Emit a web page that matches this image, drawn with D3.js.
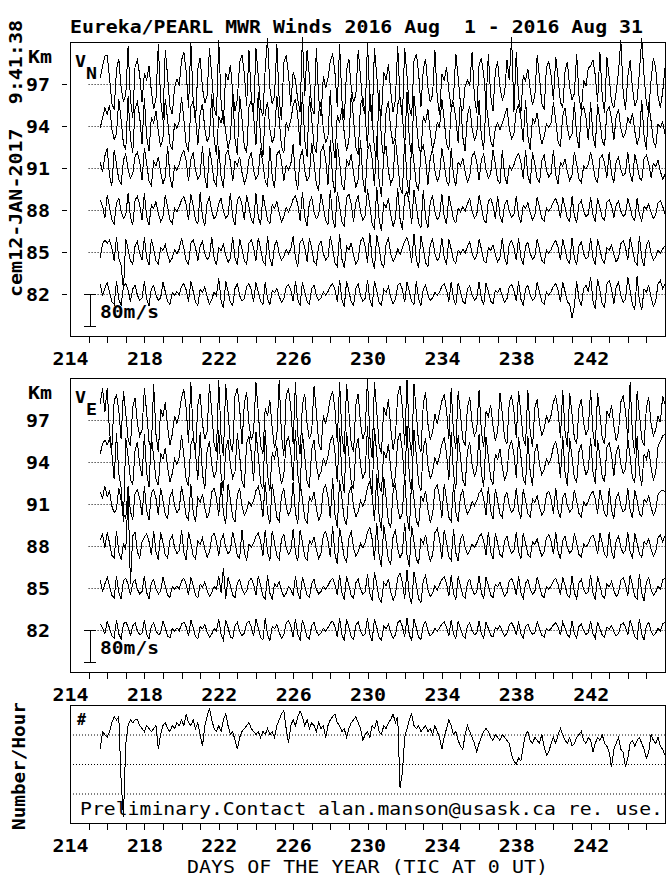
<!DOCTYPE html>
<html>
<head>
<meta charset="utf-8">
<script src="https://cdn.jsdelivr.net/npm/d3@7"></script>
<style>
  body { margin: 0; background: #fff; }
  svg { display: block; }
  text { font-family: "DejaVu Sans Mono", monospace; fill: #000; }
  .b { font-weight: bold; }
</style>
</head>
<body>
<script>
// time base: 3-hourly samples, first one at day 214.625
var startDay = 214.625;
var stepDay = 0.125;

var levels = [97, 94, 91, 88, 85, 82];
var dayLabels = [214, 218, 222, 226, 230, 234, 238, 242];

// meridional wind (m/s), one array per height
var vn97 = [15,45,70,
 72,16,-48,-64,36,63,-9,-45,-27,95,-38,-86,45,60,22,-45,
 27,9,45,-18,-63,-36,100,-40,-90,85,19,-57,-76,-8,12,-4,
 60,80,30,-60,105,-42,-95,38,66,-10,-48,-28,90,20,-60,-80,
 110,-44,-99,28,10,48,-19,-67,-38,54,72,27,-54,85,-34,-77,
 90,20,-60,-80,40,115,-10,-50,-30,100,-40,-90,54,72,27,-54,
 30,10,-40,-70,118,-30,85,19,-57,-76,90,-36,-81,20,-10,15,
 57,76,28,-57,100,-40,-90,36,63,-9,-45,-27,85,19,-57,-76,
 105,-42,-95,90,20,-60,-80,30,10,50,-20,-70,-40,95,-38,-86,
 90,20,-60,-80,57,76,28,-57,36,63,-9,-45,-27,85,-34,-77,
 25,8,42,-17,-60,-34,76,17,-51,-68,-6,9,-3,80,-32,-72,
 48,64,24,-48,75,-30,-68,32,56,-8,-40,-24,60,10,118,-70,
 80,-32,-72,22,8,38,-15,-52,-30,72,16,-48,-64,42,56,21,
 -40,68,15,-45,-60,32,56,-8,-40,-24,75,-30,-68,10,-5,40,
 45,60,22,-45,80,-32,-72,68,15,-45,-60,-20,30,110,-20,-65,
 20,60,-10,-55,-40,30,115,20,-50,-70,10,65,40,-30,-60,-20,
 40];
var vn94 = [-5,20,45,
 30,53,-7,-34,-20,68,15,-45,-60,75,-30,-68,45,60,22,-45,
 70,-28,-63,22,8,38,-15,-52,-30,68,15,-45,-60,8,-6,12,
 72,16,-48,-64,48,64,24,-48,32,56,-8,-40,-24,80,-32,-72,
 24,8,40,-16,-56,-32,80,-32,-72,76,17,-51,-68,48,64,24,
 -48,85,-34,-77,34,60,-8,-42,-25,76,17,-51,-68,10,-8,15,
 51,68,25,-51,85,-34,-77,76,17,-51,-68,34,60,-8,-42,-25,
 90,-36,-81,27,9,45,-18,-63,-36,81,18,-54,-72,54,72,27,
 -54,85,19,-57,-76,90,-36,-81,36,63,-9,-45,-27,54,72,27,
 -54,85,-34,-77,76,17,-51,-68,25,8,42,-17,-60,-34,10,-5,
 68,15,-45,-60,42,56,21,-42,70,-28,-63,28,49,-7,-35,-21,
 65,-26,-59,59,13,-39,-52,-5,8,-10,6,26,45,-6,-32,-19,
 39,52,20,-39,65,-26,-59,20,7,33,-13,-46,-26,5,-3,8,
 59,13,-39,-52,26,45,-6,-32,-19,60,-24,-54,36,48,21,-36,
 60,-24,-54,56,12,-37,-50,36,48,18,-36,24,42,-6,-30,-18,
 20,6,33,-13,-46,-26,65,-26,-59,59,13,-39,-52,5,-4,10,
 -20];
var vn91 = [15,-10,30,
 50,-20,-45,45,10,-30,-40,20,35,-5,-25,-15,30,40,15,-30,
 50,11,-33,-44,17,6,28,-11,-39,-22,55,-22,-50,5,-6,10,
 33,44,17,-33,22,39,-6,-28,-17,55,-22,-50,50,11,-33,-44,
 55,-22,-50,33,44,17,-33,17,6,28,-11,-39,-22,22,39,-6,
 -28,-17,50,11,-33,-44,55,-22,-50,33,44,17,-33,6,-4,9,
 60,-24,-54,26,46,-7,-33,-20,63,14,-42,-56,42,56,21,-42,
 70,-28,-63,63,14,-42,-56,21,7,35,-14,-49,-28,70,-28,-63,
 45,60,22,-45,80,-32,-72,32,56,-8,-40,-24,72,16,-48,-64,
 75,-30,-68,63,14,-42,-56,42,56,21,-42,26,46,-7,-33,-20,
 50,11,-33,-44,50,-20,-45,15,5,25,-10,-35,-20,30,40,15,
 -30,20,35,-5,-25,-15,45,10,-30,-40,45,-18,-40,6,-5,8,
 27,36,14,-27,45,-18,-40,40,9,-27,-36,18,32,-5,-22,-13,
 45,-18,-40,14,5,23,-9,-31,-18,41,9,-27,-36,5,-3,8,
 40,9,-27,-36,24,32,12,-24,40,-16,-36,16,28,-4,-20,-12,
 40,-16,-36,36,8,-24,-32,24,32,12,-24,12,4,20,-8,-28,
 -16];
var vn88 = [25,10,-20,
 38,8,-25,-34,17,29,-4,-21,-13,42,-17,-38,25,34,13,-25,
 42,-17,-38,13,4,21,-8,-29,-17,38,8,-25,-34,5,-4,8,
 25,34,13,-25,40,9,-26,-35,44,-18,-40,18,31,-4,-22,-13,
 17,29,-4,-21,-13,42,-17,-38,25,34,13,-25,38,8,-25,-34,
 42,-17,-38,38,8,-25,-34,13,4,21,-8,-29,-17,6,-5,9,
 27,36,14,-27,45,-18,-40,18,32,-5,-22,-13,40,9,-27,-36,
 50,-20,-45,45,10,-30,-40,30,40,15,-30,20,35,-5,-25,-15,
 52,12,-35,-46,58,-23,-52,17,6,29,-12,-41,-23,55,-22,-50,
 35,46,17,-35,50,11,-33,-44,50,-20,-45,20,35,-5,-25,-15,
 40,-16,-36,36,8,-24,-32,5,-5,8,-3,16,28,-4,-20,-12,
 36,8,-24,-32,22,29,11,-22,36,-14,-32,14,25,-4,-18,-11,
 36,-14,-32,11,4,18,-7,-25,-14,32,7,-21,-28,5,-3,6,
 21,28,11,-21,32,7,-21,-28,34,-14,-31,14,24,-3,-17,-10,
 32,-13,-29,29,6,-19,-26,19,26,10,-19,13,22,-3,-16,-10,
 29,6,-19,-26,30,-12,-27,9,3,15,-6,-21,-12,18,24,9,
 -10];
var vn85 = [-15,20,30,
 22,30,11,-22,37,-15,-33,-95,33,7,-22,-30,15,26,-4,-19,
 37,-15,-33,33,7,-22,-30,11,4,19,-7,-26,-15,5,-4,7,
 35,8,-23,-31,22,30,11,-22,15,26,-4,-19,-11,37,-15,-33,
 11,4,19,-7,-26,-15,37,-15,-33,33,7,-22,-30,22,30,11,
 -22,35,8,-23,-31,40,-16,-36,16,28,-4,-20,-12,6,-4,8,
 40,-16,-36,24,32,12,-24,36,8,-24,-32,16,28,-4,-20,-12,
 40,9,-27,-36,45,-18,-40,14,5,23,-9,-31,-18,27,36,14,
 -27,48,-19,-43,43,10,-29,-38,19,34,-5,-24,-14,8,-6,10,
 27,36,14,-27,45,-18,-40,40,9,-27,-36,18,32,-5,-22,-13,
 36,-14,-32,32,7,-21,-28,5,-4,7,-3,14,25,-4,-18,-11,
 32,7,-21,-28,11,4,18,-7,-25,-14,35,-14,-32,21,28,11,
 -21,35,-14,-32,14,25,-4,-18,-11,32,7,-21,-28,5,-3,6,
 21,28,11,-21,32,7,-21,-28,35,-14,-32,14,25,-4,-18,-11,
 35,-14,-32,32,7,-21,-28,11,4,18,-7,-25,-14,21,28,11,
 -21,36,8,-24,-32,40,-16,-36,16,28,-4,-20,-12,5,-4,8,
 15];
var vn82 = [25,-5,15,
 29,6,-19,-26,32,-13,-29,19,26,10,-19,13,22,-3,-16,-10,
 32,-13,-29,13,22,-3,-16,-10,29,6,-19,-26,4,-3,6,-2,
 19,26,10,-19,32,7,-21,-28,11,4,18,-7,-25,-14,5,-4,
 40,-16,-36,32,7,-21,-28,14,25,-4,-18,-11,19,26,10,-19,
 29,6,-19,-26,30,-12,-27,9,3,15,-6,-21,-12,18,24,9,
 -18,32,-13,-29,29,6,-19,-26,13,22,-3,-16,-10,5,-3,6,
 19,26,10,-19,35,-14,-32,32,7,-21,-28,14,25,-4,-18,-11,
 35,-14,-32,32,7,-21,-28,11,4,18,-7,-25,-14,21,28,11,
 -21,29,6,-19,-26,32,-13,-29,13,22,-3,-16,-10,4,-3,5,
 19,26,10,-19,30,-12,-27,27,6,-18,-24,12,21,-3,-15,-9,
 30,-12,-27,27,6,-18,-24,9,3,15,-6,-21,-12,18,24,9,
 -18,32,-13,-29,13,22,-3,-16,-10,29,6,-19,-26,5,-3,6,
 19,26,10,-19,29,6,-19,-26,-60,-30,32,-13,-29,13,22,5,
 42,-17,-38,38,8,-25,-34,25,34,13,-25,17,29,-4,-21,-13,
 42,9,-28,-38,45,-18,-40,13,4,22,-9,-31,-18,25,34,13,
 25];

// zonal wind (m/s), one array per height
var ve97 = [40,80,20,
 80,-32,-72,48,64,24,-48,72,16,-48,-64,32,56,-8,-40,-24,
 80,18,-54,-72,90,-36,-81,27,9,45,-18,-63,-36,10,-8,15,
 57,76,28,-57,95,-38,-86,38,66,-10,-48,-28,90,20,-60,-80,
 100,-40,-90,90,20,-60,-80,60,80,30,-60,40,70,-10,-50,-30,
 95,21,-63,-84,30,10,50,-20,-70,-40,100,-40,-90,60,80,30,
 -60,95,-38,-86,38,66,-10,-48,-28,85,19,-57,-76,12,-10,18,
 54,72,27,-54,95,-38,-86,90,20,-60,-80,38,66,-10,-48,-28,
 105,-42,-95,95,21,-63,-84,32,11,52,-21,-74,-42,63,84,32,
 -63,100,-40,-90,90,20,-60,-80,40,70,-10,-50,-30,15,-10,20,
 48,64,24,-48,80,-32,-72,72,16,-48,-64,32,56,-8,-40,-24,
 75,-30,-68,22,8,38,-15,-52,-30,68,15,-45,-60,45,60,22,
 -45,72,16,-48,-64,75,-30,-68,30,52,-8,-38,-22,10,-6,12,
 45,60,22,-45,75,-30,-68,68,15,-45,-60,30,52,-8,-38,-22,
 75,-30,-68,68,15,-45,-60,22,8,38,-15,-52,-30,45,60,22,
 -45,95,-38,-86,72,16,-48,-64,32,56,-8,-40,-24,10,-6,60,
 40];
var ve94 = [20,45,55,
 43,58,22,-43,72,-29,-65,-150,60,14,-43,-58,29,50,-7,-36,
 70,-28,-63,65,14,-43,-58,22,7,36,-14,-50,-29,8,-6,12,
 68,15,-45,-60,45,60,22,-45,75,-30,-68,30,52,-8,-38,-22,
 80,-32,-72,32,56,-8,-40,-24,72,16,-48,-64,48,64,24,-48,
 76,17,-51,-68,80,-32,-72,24,8,40,-16,-56,-32,48,64,24,
 -48,80,-32,-72,72,16,-48,-64,32,56,-8,-40,-24,10,-8,14,
 51,68,25,-51,85,-34,-77,76,17,-51,-68,34,60,-8,-42,-25,
 90,-36,-81,85,19,-57,-76,27,9,45,-18,-63,-36,54,72,27,
 -54,90,-36,-81,81,18,-54,-72,34,60,-8,-42,-25,10,-6,15,
 45,60,22,-45,75,-30,-68,68,15,-45,-60,28,49,-7,-35,-21,
 70,-28,-63,63,14,-42,-56,20,7,33,-13,-46,-26,39,52,20,
 -39,63,14,-42,-56,65,-26,-59,26,45,-6,-32,-19,8,-5,10,
 39,52,20,-39,65,-26,-59,59,13,-39,-52,26,45,-6,-32,-19,
 60,-24,-54,56,12,-37,-50,36,48,18,-36,24,42,-6,-30,-18,
 59,13,-39,-52,65,-26,-59,20,7,33,-13,-46,-26,39,52,65,
 70];
var ve91 = [30,15,45,
 18,32,-5,-22,-13,40,9,-27,-36,45,-18,-40,27,36,14,-27,
 45,-18,-40,27,36,14,-27,40,9,-27,-36,18,32,-5,-22,-13,
 45,10,-30,-40,50,-20,-45,15,5,25,-10,-35,-20,30,40,15,
 -30,55,-22,-50,50,11,-33,-44,22,39,-6,-28,-17,6,-5,9,
 33,44,17,-33,55,-22,-50,50,11,-33,-44,22,39,-6,-28,-17,
 55,-22,-50,54,12,-36,-48,18,6,30,-12,-42,-24,36,48,18,
 -36,65,-26,-59,59,13,-39,-52,26,45,-6,-32,-19,8,-6,10,
 42,56,21,-42,75,-30,-68,68,15,-45,-60,30,52,-8,-38,-22,
 75,-30,-68,63,14,-42,-56,20,7,33,-13,-46,-26,36,48,18,
 -36,50,11,-33,-44,50,-20,-45,20,35,-5,-25,-15,6,-4,8,
 27,36,14,-27,42,-17,-38,38,8,-25,-34,17,29,-4,-21,-13,
 40,-16,-36,36,8,-24,-32,12,4,20,-8,-28,-16,24,32,12,
 -24,40,-16,-36,16,28,-4,-20,-12,36,8,-24,-32,5,-4,7,
 24,32,12,-24,36,8,-24,-32,40,-16,-36,16,28,-4,-20,-12,
 40,-16,-36,36,8,-24,-32,12,4,20,-8,-28,-16,24,32,35,
 30];
var ve88 = [15,30,-5,
 34,8,-23,-30,38,-15,-34,5,-10,130,-95,25,34,-15,-30,10,
 23,30,11,-23,38,-15,-34,34,8,-23,-30,15,27,-4,-19,-11,
 40,-16,-36,36,8,-24,-32,12,4,20,-8,-28,-16,24,32,12,
 -24,16,28,-4,-20,-12,36,8,-24,-32,40,-16,-36,5,-4,7,
 24,32,12,-24,40,-16,-36,38,8,-25,-34,17,29,-4,-21,-13,
 42,-17,-38,40,9,-27,-36,14,5,23,-9,-31,-18,27,36,14,
 -27,50,-20,-45,45,10,-30,-40,20,35,-5,-25,-15,6,-5,9,
 35,46,17,-35,58,-23,-52,52,12,-35,-46,23,41,-6,-29,-17,
 58,-23,-52,50,11,-33,-44,17,6,28,-11,-39,-22,33,44,17,
 -33,40,9,-27,-36,42,-17,-38,17,29,-4,-21,-13,5,-4,7,
 23,30,11,-23,36,-14,-32,32,7,-21,-28,14,25,-4,-18,-11,
 35,-14,-32,32,7,-21,-28,11,4,18,-7,-25,-14,21,28,11,
 -21,35,-14,-32,14,25,-4,-18,-11,32,7,-21,-28,5,-3,6,
 21,28,11,-21,32,7,-21,-28,35,-14,-32,14,25,-4,-18,-11,
 35,-14,-32,32,7,-21,-28,11,4,18,-7,-25,-14,21,28,11,
 25];
var ve85 = [20,-10,10,
 27,6,-18,-24,30,-12,-27,18,24,9,-18,12,21,-3,-15,-9,
 30,-12,-27,12,21,-3,-15,-9,27,6,-18,-24,4,-3,5,-2,
 18,24,9,-18,27,6,-18,-24,9,3,15,-6,-21,-12,4,-3,
 30,-12,50,-27,27,6,-18,-24,12,21,-3,-15,-9,18,24,9,
 -18,30,7,-20,-27,32,-13,-29,10,3,16,-6,-22,-13,4,-3,
 -19,30,-12,-27,27,6,-18,-24,12,21,-3,-15,-9,4,-3,6,
 18,24,9,-18,32,-13,-29,29,6,-19,-26,13,22,-3,-16,-10,
 35,-14,-32,40,9,-27,-36,14,5,23,-9,-31,-18,27,36,14,
 -27,45,-18,-40,40,9,-27,-36,18,32,-5,-22,-13,6,-5,9,
 21,28,11,-21,32,-13,-29,29,6,-19,-26,13,22,-3,-16,-10,
 30,-12,-27,27,6,-18,-24,9,3,15,-6,-21,-12,18,24,9,
 -18,30,-12,-27,12,21,-3,-15,-9,27,6,-18,-24,4,-3,5,
 18,24,9,-18,27,6,-18,-24,30,-12,-27,12,21,-3,-15,-9,
 32,-13,-29,29,6,-19,-26,10,3,16,-6,-22,-13,19,26,10,
 -19,32,7,-21,-28,35,-14,-32,14,25,-4,-18,-11,5,-3,20,
 25];
var ve82 = [15,5,-10,
 22,5,-15,-20,25,-10,-22,15,20,8,-15,10,18,-2,-12,-8,
 25,-10,-22,10,18,-2,-12,-8,22,5,-15,-20,4,-3,5,-2,
 15,20,8,-15,25,6,-17,-22,8,3,13,-5,-18,-10,4,-3,
 28,-11,-25,25,6,-17,-22,11,19,-3,-14,-8,16,22,8,-16,
 28,6,-18,-25,30,-12,-27,9,3,15,-6,-21,-12,18,24,9,
 -18,28,-11,-25,25,6,-17,-22,11,19,-3,-14,-8,4,-3,6,
 17,22,8,-17,30,-12,-27,27,6,-18,-24,12,21,-3,-15,-9,
 30,-12,-27,28,6,-19,-25,9,3,15,-6,-21,-12,18,24,9,
 -18,30,-12,-27,27,6,-18,-24,12,21,-3,-15,-9,4,-3,5,
 15,20,8,-15,25,-10,-22,22,5,-15,-20,10,18,-2,-12,-8,
 22,-9,-20,20,4,-13,-18,7,2,11,-4,-15,-9,13,18,7,
 -13,22,-9,-20,9,15,-2,-11,-7,20,4,-13,-18,3,-2,4,
 13,18,7,-13,20,4,-13,-18,22,-9,-20,9,15,-2,-11,-7,
 22,-9,-20,20,4,-13,-18,7,2,11,-4,-15,-9,13,18,7,
 -13,25,6,-17,-22,28,-11,-25,11,19,-3,-14,-8,4,-3,15,
 20];

// number of meteors per hour
var counts = [25,31,30,
 29,31,34,36,35,36,14,2, 27,33,35,34,35,35,33,32,
 31,33,32,31,32,33,25,30, 33,34,32,31,33,32,34,33,
 35,33,37,34,33,35,32,34, 30,26,33,36,39,35,32,31,
 33,31,35,37,33,30,31,28, 25,29,31,32,33,34,32,31,
 30,31,29,31,30,32,30,31, 29,33,35,37,38,32,27,33,
 35,33,36,38,36,33,35,32, 34,33,31,34,32,33,29,33,
 35,36,37,34,33,31,32,29, 32,34,35,36,34,32,28,30,
 31,29,33,32,35,31,30,33, 32,34,35,37,34,36,12,17,
 29,32,35,37,33,32,33,31, 32,33,31,32,30,33,31,29,
 25,29,32,35,33,30,31,28, 26,25,30,33,31,29,27,24,
 27,29,31,32,31,29,28,30, 29,28,30,29,28,27,23,21,
 20,22,21,26,30,31,28,27, 29,28,27,30,26,23,24,27,
 29,27,30,32,30,28,27,29, 26,27,29,30,31,28,27,29,
 28,24,27,29,28,30,27,26, 24,19,25,27,29,25,24,19,
 22,27,28,26,28,29,27,25, 22,24,30,28,27,29,26,25,
 23];

var vnSeries = [vn97, vn94, vn91, vn88, vn85, vn82];
var veSeries = [ve97, ve94, ve91, ve88, ve85, ve82];

var width = 672, height = 877;
var svg = d3.select("body").append("svg")
  .attr("width", width)
  .attr("height", height);

var x = d3.scaleLinear().domain([213, 245]).range([70, 665]);
// 80 m/s is 32 px
var w = d3.scaleLinear().domain([0, 80]).range([0, 32]);
var cnt = d3.scaleLinear().domain([0, 40]).range([823, 705]);

function dayOf(i) { return startDay + i * stepDay; }

function txt(g, s, xx, yy, size, len, bold) {
  var t = g.append("text")
    .attr("x", xx).attr("y", yy)
    .attr("font-size", size)
    .style("white-space", "pre")
    .text(s);
  if (len) t.attr("textLength", len).attr("lengthAdjust", "spacingAndGlyphs");
  if (bold) t.attr("class", "b");
  return t;
}

function dayAxis(yBottom) {
  var g = svg.append("g").attr("transform", "translate(0," + yBottom + ")");
  g.call(d3.axisBottom(x).tickValues(d3.range(214, 245)).tickSize(7).tickFormat(""))
    .attr("shape-rendering", "crispEdges");
  g.select(".domain").remove();
  g.selectAll(".tick line").attr("stroke", "#000");
  dayLabels.forEach(function(d) {
    txt(g, String(d), x(d) - 18, 29, 17, 36, true);
  });
}

function windPanel(top, series, sub, leftTicks) {
  var y = d3.scaleLinear().domain([79, 100]).range([top + 294, top]);
  var g = svg.append("g");

  // dotted level lines
  g.selectAll("line.lev").data(levels).enter().append("line")
    .attr("x1", x(214)).attr("x2", x(245))
    .attr("y1", function(d) { return y(d) + 0.5; })
    .attr("y2", function(d) { return y(d) + 0.5; })
    .attr("stroke", "#000").attr("stroke-width", 1)
    .attr("stroke-dasharray", "1,2");

  if (leftTicks) {
    g.selectAll("line.lt").data(levels).enter().append("line")
      .attr("x1", 62).attr("x2", 67)
      .attr("y1", function(d) { return y(d) + 0.5; })
      .attr("y2", function(d) { return y(d) + 0.5; })
      .attr("stroke", "#000");
  }

  // traces
  series.forEach(function(vals, k) {
    var base = y(levels[k]);
    var line = d3.line()
      .x(function(d, i) { return x(dayOf(i)); })
      .y(function(d) { return base - w(d); });
    g.append("path").datum(vals)
      .attr("d", line)
      .attr("fill", "none")
      .attr("stroke", "#000")
      .attr("stroke-width", 1)
      .attr("shape-rendering", "crispEdges");
  });

  // frame
  g.append("rect")
    .attr("x", 70.5).attr("y", top + 0.5)
    .attr("width", 595).attr("height", 294)
    .attr("fill", "none").attr("stroke", "#000")
    .attr("shape-rendering", "crispEdges");

  // height labels
  levels.forEach(function(d) {
    txt(g, String(d), 26, y(d) + 7, 17, 24, true);
  });
  txt(g, "Km", 28, top + 21, 17, 24, true);

  // V with subscript
  txt(g, "V", 75, top + 25, 16, 11, true);
  txt(g, sub, 86, top + 37, 16, 11, true);

  // 80 m/s scale bar
  var y0 = y(82);
  g.append("path")
    .attr("d", "M84," + (y0 + 0.5) + "H96M90.5," + y0 + "V" + (y0 + w(80)) + "M84," + (y0 + w(80) + 0.5) + "H96")
    .attr("stroke", "#000").attr("fill", "none")
    .attr("shape-rendering", "crispEdges");
  txt(g, "80m/s", 100, y0 + 24, 17, 59, true);

  dayAxis(top + 294);
}

windPanel(42, vnSeries, "N", true);
windPanel(378, veSeries, "E", false);

// meteor count panel
var gc = svg.append("g");
[10, 20, 30].forEach(function(v) {
  gc.append("line")
    .attr("x1", 70).attr("x2", 665)
    .attr("y1", cnt(v) + 0.5).attr("y2", cnt(v) + 0.5)
    .attr("stroke", "#000").attr("stroke-dasharray", "1,2");
});
gc.append("path").datum(counts)
  .attr("d", d3.line()
    .x(function(d, i) { return x(dayOf(i)); })
    .y(function(d) { return cnt(d); }))
  .attr("fill", "none").attr("stroke", "#000")
  .attr("shape-rendering", "crispEdges");
gc.append("rect")
  .attr("x", 70.5).attr("y", 705.5)
  .attr("width", 595).attr("height", 118)
  .attr("fill", "none").attr("stroke", "#000")
  .attr("shape-rendering", "crispEdges");
txt(gc, "#", 77, 725, 15, 9, true);
txt(gc, "Preliminary.Contact alan.manson@usask.ca re. use.", 80, 815, 17, 583);
dayAxis(823);

// titles
txt(svg, "Eureka/PEARL MWR Winds 2016 Aug  1 - 2016 Aug 31", 70, 33, 17, 573, true);
txt(svg, "DAYS OF THE YEAR (TIC AT 0 UT)", 187, 873, 17, 361);

svg.append("text")
  .attr("class", "b")
  .attr("transform", "translate(22,297) rotate(-90)")
  .attr("font-size", 17)
  .attr("textLength", 277).attr("lengthAdjust", "spacingAndGlyphs")
  .style("white-space", "pre")
  .text("cem12-JAN-2017  9:41:38");

svg.append("text")
  .attr("class", "b")
  .attr("transform", "translate(25,830) rotate(-90)")
  .attr("font-size", 17)
  .attr("textLength", 128).attr("lengthAdjust", "spacingAndGlyphs")
  .text("Number/Hour");

// length check
vnSeries.concat(veSeries, [counts]).forEach(function(a, k) {
  if (a.length !== 244) console.error("series " + k + " has " + a.length);
});
</script>
</body>
</html>
